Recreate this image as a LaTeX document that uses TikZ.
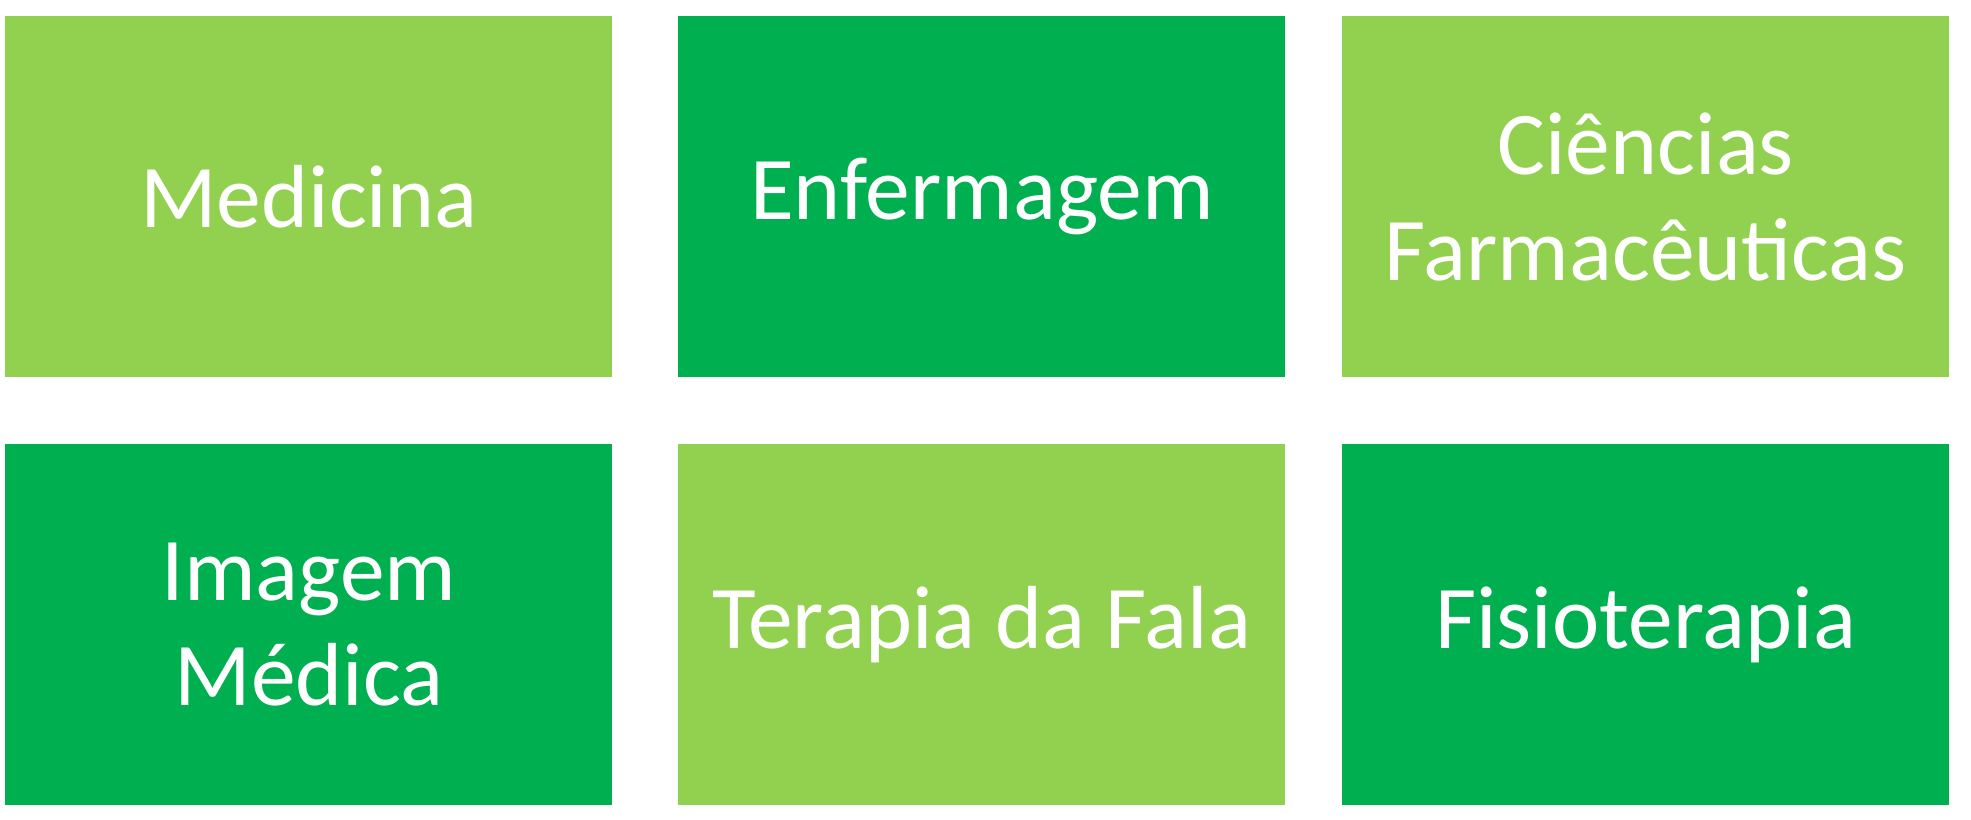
\documentclass[tikz,border=0pt]{standalone}
\usepackage{fontspec}
\setmainfont{Carlito}
\definecolor{lg}{HTML}{92D050}
\definecolor{dg}{HTML}{00B050}
\begin{document}
\begin{tikzpicture}[x=0.02cm,y=-0.02cm,
 box/.style={minimum width=607*0.02cm,minimum height=361*0.02cm,inner sep=0pt,text=white,align=center,font=\fontsize{51}{60}\selectfont,anchor=north west}]
\useasboundingbox[fill=white] (0,0) rectangle (1971,820);
\node[box,fill=lg] (a) at (5,16) {Medicina};
\node[box,fill=dg] (b) at (678,16) {Enfermagem};
\node[box,fill=lg] (c) at (1342,16) {Ciências\\Farmacêuticas};
\node[box,fill=dg] (d) at (5,444) {Imagem\\Médica};
\node[box,fill=lg] (e) at (678,444) {Terapia da Fala};
\node[box,fill=dg] (f) at (1342,444) {Fisioterapia};
\end{tikzpicture}
\end{document}
